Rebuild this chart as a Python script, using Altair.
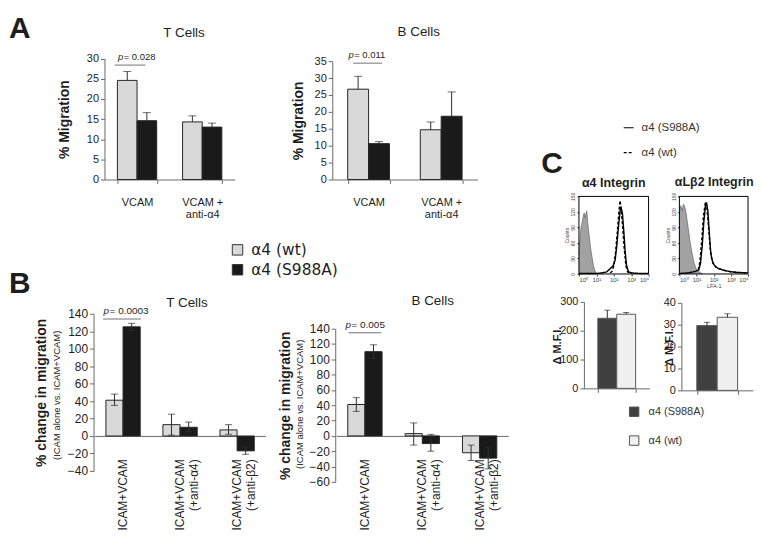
import altair as alt
import pandas as pd

W, H = 750, 526
FONT = "Liberation Sans"
AXC = "#6a6a6a"
TXC = "#1e1e1e"
ERRC = "#2e2e2e"


def X(v):
    return v - 8


def Y(v):
    return v - 8


# ---------------- data ----------------
genotypes = ["α4 (wt)", "α4 (S988A)"]

# Panel A: % migration on VCAM
a_conditions = ["VCAM", "VCAM +\nanti-α4"]
a_t_wt = [24.6, 14.3]
a_t_wt_err = [26.8, 15.8]
a_t_mut = [14.6, 13.0]
a_t_mut_err = [16.6, 14.0]
a_b_wt = [26.7, 14.7]
a_b_wt_err = [30.5, 17.0]
a_b_mut = [10.6, 18.7]
a_b_mut_err = [11.2, 25.9]

# Panel B: % change in migration
b_conditions = ["ICAM+VCAM", "ICAM+VCAM\n(+anti-α4)", "ICAM+VCAM\n(+anti-β2)"]
b_t_wt = [41, 13, 7]
b_t_wt_lo = [35, 1, 2]
b_t_wt_hi = [48, 25, 13]
b_t_mut = [125, 10, -17]
b_t_mut_lo = [121, 5, -21]
b_t_mut_hi = [129, 16, -13]
b_b_wt = [41, 3, -22]
b_b_wt_lo = [32, -12, -32]
b_b_wt_hi = [50, 17, -12]
b_b_mut = [110, -10, -29]
b_b_mut_lo = [101, -20, -43]
b_b_mut_hi = [119, 2, -15]

# p values
p_texts = ["= 0.028", "= 0.011", "= 0.0003", "= 0.005"]
p_levels = [28.4, 34.4, 134, 134.7]

# Panel C: delta MFI
c_genotypes = ["α4 (S988A)", "α4 (wt)"]
c_group = ["MFI"]
c_a4_mfi = [243, 257]
c_a4_err = [271, 263]
c_al_mfi = [29.6, 33.4]
c_al_err = [31.1, 35.0]

# Panel C: flow histograms (x = log10 fluorescence, y = counts)
a4_iso_e = [0.0, 0.05, 0.1, 0.15, 0.2, 0.25, 0.3, 0.35, 0.4, 0.45, 0.5, 0.55, 0.6, 0.67, 0.75, 0.83, 0.9, 0.98, 1.06]
a4_iso_c = [38, 60, 85, 95, 102, 112, 118, 108, 116, 122, 100, 85, 72, 50, 33, 17, 8, 2, 0]
a4_mut_e = [0.0, 0.5, 1.0, 1.3, 1.6, 1.75, 1.88, 1.98, 2.08, 2.17, 2.27, 2.37, 2.42, 2.5, 2.58, 2.65, 2.73, 2.85, 3.04, 3.5, 4.0]
a4_mut_c = [1, 1, 1, 2, 4, 9, 13, 17, 27, 53, 91, 123, 129, 117, 81, 46, 17, 4, 2, 1, 1]
a4_wt_e = [1.8, 1.9, 2.0, 2.1, 2.2, 2.3, 2.36, 2.42, 2.5, 2.6, 2.7, 2.8, 3.0]
a4_wt_c = [2, 5, 15, 40, 80, 122, 142, 128, 95, 50, 15, 4, 1]

al_iso_e = [0.0, 0.08, 0.16, 0.23, 0.31, 0.39, 0.47, 0.55, 0.62, 0.7, 0.78, 0.86, 0.94, 1.01, 1.13, 1.25, 1.37]
al_iso_c = [119, 132, 122, 135, 130, 118, 99, 80, 63, 47, 33, 21, 13, 8, 5, 2, 0]
al_mut_e = [0.0, 0.5, 0.94, 1.13, 1.23, 1.33, 1.42, 1.52, 1.58, 1.66, 1.74, 1.83, 1.95, 2.11, 2.3, 2.6, 2.89, 3.28, 4.0]
al_mut_c = [1, 2, 5, 8, 21, 54, 99, 132, 138, 122, 80, 40, 21, 14, 10, 7, 5, 3, 2]
al_wt_e = [1.1, 1.2, 1.3, 1.4, 1.5, 1.55, 1.6, 1.7, 1.8, 1.9, 2.1, 2.5, 3.0, 4.0]
al_wt_c = [8, 25, 65, 112, 136, 140, 128, 90, 48, 25, 14, 8, 4, 2]


def group_df(conds, genos, first, first_lo, first_hi, second, second_lo, second_hi):
    rows = []
    for i, c in enumerate(conds):
        rows.append(dict(cond=c, geno=genos[0], val=first[i], lo=first_lo[i], hi=first_hi[i]))
        rows.append(dict(cond=c, geno=genos[1], val=second[i], lo=second_lo[i], hi=second_hi[i]))
    return pd.DataFrame(rows)


def bar_panel(df, conds, genos, colors, xr, pair_w, base_y, yd, yr, yticks, ax_x,
              ytitle, ytitle_x, fs, tfs, mode="plain", legend=None, two_sided=False,
              cap=7, bar_stroke="#262626", p=None):
    step = (xr[1] - xr[0]) / len(conds)
    pin = 1 - pair_w / step
    xs = alt.Scale(domain=conds, range=[X(xr[0]), X(xr[1])], paddingInner=pin, paddingOuter=pin / 2)
    ys = alt.Scale(domain=yd, range=[Y(yr[0]), Y(yr[1])], nice=False, zero=False)
    offs = alt.Scale(domain=genos, paddingInner=0, paddingOuter=0)
    common = dict(orient="bottom", offset=Y(base_y) - H, grid=False, domainColor=AXC, title=None,
                  labelFont=FONT, labelFontSize=fs, labelColor=TXC)
    if mode == "rot":
        xax = alt.Axis(ticks=False, tickSize=0, labelAngle=-90, labelPadding=23, labelLineHeight=14,
                       labelExpr="split(datum.label, '\\n')", labelOverlap=False, **common)
    elif mode == "plain":
        xax = alt.Axis(tickColor=AXC, tickSize=4, tickBand="extent", labelAngle=0, labelPadding=13,
                       labelLineHeight=12, labelExpr="split(datum.label, '\\n')", labelOverlap=False, **common)
    else:
        xax = alt.Axis(labels=False, tickColor=AXC, tickSize=4, tickBand="extent", **common)
    yax = alt.Axis(orient="left", offset=-X(ax_x), values=yticks, grid=False, domainColor=AXC,
                   tickColor=AXC, tickSize=4, labelFont=FONT, labelFontSize=fs, labelColor=TXC,
                   labelPadding=2, title=ytitle, titleFont=FONT, titleFontSize=tfs,
                   titleFontWeight="bold", titleColor=TXC, titleX=ytitle_x - ax_x,
                   titleBaseline="middle")
    xe = alt.X("cond:N", scale=xs, axis=xax)
    xo = alt.XOffset("geno:N", scale=offs)

    def ye(f):
        return alt.Y(f, type="quantitative", scale=ys, axis=yax)

    base = alt.Chart(df)
    bars = base.mark_bar(stroke=bar_stroke, strokeWidth=1).encode(
        x=xe, xOffset=xo, y=ye("val"), y2=alt.datum(0),
        color=alt.Color("geno:N", scale=alt.Scale(domain=genos, range=colors), legend=legend))
    lo_f = "lo" if two_sided else "val"
    err = base.mark_rule(color=ERRC, strokeWidth=1).encode(x=xe, xOffset=xo, y=ye(lo_f), y2="hi:Q")
    caps_hi = base.mark_tick(color=ERRC, thickness=1, size=cap).encode(x=xe, xOffset=xo, y=ye("hi"))
    layers = [bars, err, caps_hi]
    if two_sided:
        layers.append(base.mark_tick(color=ERRC, thickness=1, size=cap).encode(x=xe, xOffset=xo, y=ye("lo")))
    if p is not None:
        pdf = pd.DataFrame({"cond": [conds[0]], "yv": [p["y"]], "t": [p["text"]], "pp": ["p"]})
        pc = alt.Chart(pdf)
        layers.append(pc.mark_tick(color="#3a3a3a", thickness=1, size=p["w"], xOffset=p["shift"]).encode(
            x=xe, y=ye("yv")))
        layers.append(pc.mark_text(font=FONT, fontSize=p["fs"], fontStyle="italic", align="right",
                                   baseline="bottom", dx=p["dx"], dy=-3, color=TXC).encode(
            x=xe, y=ye("yv"), text="pp:N"))
        layers.append(pc.mark_text(font=FONT, fontSize=p["fs"], align="left", baseline="bottom",
                                   dx=p["dx"] + 0.5, dy=-3, color=TXC).encode(
            x=xe, y=ye("yv"), text="t:N"))
    return alt.layer(*layers)


def hist_panel(iso_e, iso_c, mut_e, mut_c, wt_e, wt_c, xr, xtitle=None, legend=None):
    xs = alt.Scale(domain=[0, 4], range=[X(xr[0]), X(xr[1])], nice=False, zero=False)
    ys = alt.Scale(domain=[0, 150], range=[Y(274), Y(196)], nice=False, zero=False)
    xkw = dict(orient="bottom", offset=Y(274) - H, values=[0, 1, 2, 3, 4],
               labelExpr="'10' + ['⁰','¹','²','³','⁴'][datum.value]", grid=False, domain=False,
               tickSize=2, tickColor="#333333", labelFont=FONT, labelFontSize=6, labelColor="#444444",
               labelPadding=1)
    if xtitle:
        xax = alt.Axis(title=xtitle, titleFont=FONT, titleFontSize=5.5, titleFontWeight="normal",
                       titleColor="#444444", titlePadding=1, **xkw)
    else:
        xax = alt.Axis(title=None, **xkw)
    yax = alt.Axis(orient="left", offset=-X(xr[0]), values=[0, 30, 60, 90, 120, 150], grid=False,
                   domain=False, tickSize=2, tickColor="#333333", labelAngle=-90, labelFont=FONT,
                   labelFontSize=5, labelColor="#444444", labelPadding=1, title="Counts",
                   titleFont=FONT, titleFontSize=5, titleFontWeight="normal", titleColor="#444444",
                   titlePadding=1)
    gdf = pd.DataFrame({"e": iso_e, "c": iso_c})
    area = alt.Chart(gdf).mark_area(color="#7a7a7a", line={"color": "#555555", "strokeWidth": 0.6}).encode(
        x=alt.X("e:Q", scale=xs, axis=xax), y=alt.Y("c:Q", scale=ys, axis=yax), y2=alt.datum(0))
    ldf = pd.DataFrame({
        "e": list(mut_e) + list(wt_e),
        "c": list(mut_c) + list(wt_c),
        "g": [c_genotypes[0]] * len(mut_e) + [c_genotypes[1]] * len(wt_e),
    })
    lines = alt.Chart(ldf).mark_line(color="black", strokeWidth=1.4).encode(
        x=alt.X("e:Q", scale=xs, axis=xax), y=alt.Y("c:Q", scale=ys, axis=yax),
        strokeDash=alt.StrokeDash("g:N", scale=alt.Scale(domain=c_genotypes, range=[[1, 0], [3, 2]]),
                                  legend=legend))
    frame = alt.Chart(pd.DataFrame({"k": [0]})).mark_rect(fillOpacity=0, stroke="black", strokeWidth=1).encode(
        x=alt.XDatum(0, scale=xs, axis=xax), x2=alt.datum(4),
        y=alt.YDatum(0, scale=ys, axis=yax), y2=alt.datum(150))
    return alt.layer(area, lines, frame)


def label(text, x, y, size, weight="normal", angle=0, align="center", baseline="middle", font=FONT):
    return alt.Chart(pd.DataFrame({"t": [text]})).mark_text(
        font=font, fontSize=size, fontWeight=weight, angle=angle, align=align, baseline=baseline,
        color=TXC).encode(text="t:N", x=alt.value(X(x)), y=alt.value(Y(y)))


light = "#d9d9d9"
black = "#1a1a1a"

mid_legend = alt.Legend(orient="none", legendX=X(231), legendY=Y(242), title=None, symbolType="square",
                        symbolSize=110, symbolStrokeColor="#333333", symbolStrokeWidth=1,
                        labelFont="DejaVu Sans", labelFontSize=15.5, labelColor=TXC, labelOffset=6,
                        rowPadding=3)

a_t = bar_panel(group_df(a_conditions, genotypes, a_t_wt, a_t_wt, a_t_wt_err, a_t_mut, a_t_mut, a_t_mut_err),
                a_conditions, genotypes, [light, black], (105, 236), 39.5, 179, [0, 30], (179, 57.5),
                [0, 5, 10, 15, 20, 25, 30], 105, "% Migration", 65, 11, 14, mode="plain",
                legend=mid_legend, cap=8,
                p=dict(y=p_levels[0], text=p_texts[0], w=31, shift=-7, dx=-14, fs=9.5))
a_b = bar_panel(group_df(a_conditions, genotypes, a_b_wt, a_b_wt, a_b_wt_err, a_b_mut, a_b_mut, a_b_mut_err),
                a_conditions, genotypes, [light, black], (334, 480), 42, 179, [0, 35], (179, 60),
                [0, 5, 10, 15, 20, 25, 30, 35], 334, "% Migration", 300, 11, 14, mode="plain", cap=8,
                p=dict(y=p_levels[1], text=p_texts[1], w=29, shift=-1, dx=-15, fs=9.5))
b_t = bar_panel(group_df(b_conditions, genotypes, b_t_wt, b_t_wt_lo, b_t_wt_hi, b_t_mut, b_t_mut_lo, b_t_mut_hi),
                b_conditions, genotypes, [light, black], (95, 267), 34.5, 436.8, [-40, 140], (472, 314),
                list(range(-40, 141, 20)), 94, "% change in migration", 42, 12, 14, mode="rot",
                two_sided=True, cap=7,
                p=dict(y=p_levels[2], text=p_texts[2], w=38, shift=-1, dx=-14, fs=10))
b_b = bar_panel(group_df(b_conditions, genotypes, b_b_wt, b_b_wt_lo, b_b_wt_hi, b_b_mut, b_b_mut_lo, b_b_mut_hi),
                b_conditions, genotypes, [light, black], (338, 511), 34.5, 436.8, [-60, 140], (483, 329),
                list(range(-60, 141, 20)), 337, "% change in migration", 287, 12, 14, mode="rot",
                two_sided=True, cap=7,
                p=dict(y=p_levels[3], text=p_texts[3], w=33, shift=0, dx=-14, fs=10))

c_legend = alt.Legend(orient="none", legendX=X(632), legendY=Y(407), title=None, symbolType="square",
                      symbolSize=90, symbolStrokeColor="#555555", symbolStrokeWidth=1, labelFont=FONT,
                      labelFontSize=11, labelColor="#333333", labelOffset=9, rowPadding=14)
c_dark = "#404040"
c_light = "#f0f0f0"
c_l = bar_panel(group_df(c_group, c_genotypes, [c_a4_mfi[0]], [c_a4_mfi[0]], [c_a4_err[0]],
                         [c_a4_mfi[1]], [c_a4_mfi[1]], [c_a4_err[1]]),
                c_group, c_genotypes, [c_dark, c_light], (587, 653), 38, 389, [0, 300], (389, 302),
                [0, 100, 200, 300], 587, "Δ M.F.I.", 560, 11, 11, mode="none", legend=c_legend,
                cap=6, bar_stroke="#5a5a5a")
c_r = bar_panel(group_df(c_group, c_genotypes, [c_al_mfi[0]], [c_al_mfi[0]], [c_al_err[0]],
                         [c_al_mfi[1]], [c_al_mfi[1]], [c_al_err[1]]),
                c_group, c_genotypes, [c_dark, c_light], (685, 757), 41, 391, [0, 40], (391, 303),
                [0, 10, 20, 30, 40], 685, "Δ M.F.I.", 673, 11, 11, mode="none", cap=6,
                bar_stroke="#5a5a5a")

line_legend = alt.Legend(orient="none", legendX=X(626), legendY=Y(121), title=None, symbolType="stroke",
                         symbolSize=100, symbolStrokeColor="black", symbolStrokeWidth=1.2,
                         labelFont=FONT, labelFontSize=11.5, labelColor="#333333", labelOffset=7,
                         rowPadding=13)
h_a4 = hist_panel(a4_iso_e, a4_iso_c, a4_mut_e, a4_mut_c, a4_wt_e, a4_wt_c, (582, 652), legend=line_legend)
h_al = hist_panel(al_iso_e, al_iso_c, al_mut_e, al_mut_c, al_wt_e, al_wt_c, (683, 752), xtitle="LFA-1")

texts = [
    label("A", 9, 37, 30, "bold", align="left", baseline="alphabetic"),
    label("B", 9, 293, 30, "bold", align="left", baseline="alphabetic"),
    label("C", 544, 172, 30, "bold", align="left", baseline="alphabetic"),
    label("T Cells", 185, 32, 13.5),
    label("B Cells", 421, 31, 13.5),
    label("T Cells", 188, 303, 13.5),
    label("B Cells", 435, 301, 13.5),
    label("(ICAM alone vs. ICAM+VCAM)", 57, 396, 9.5, angle=270),
    label("(ICAM alone vs. ICAM+VCAM)", 302, 405, 9.5, angle=270),
    label("α4 Integrin", 617, 183, 12.5, "bold"),
    label("αLβ2 Integrin", 718, 182, 12.5, "bold"),
]

chart = alt.layer(a_t, a_b, b_t, b_b, c_l, c_r, h_a4, h_al, *texts).resolve_scale(
    x="independent", y="independent", color="independent", xOffset="independent",
    strokeDash="independent"
).properties(
    width=W, height=H, padding=0, autosize=alt.AutoSizeParams(type="none"), background="white"
).configure_view(strokeWidth=0)

chart.save("out.html", embed_options={"renderer": "svg", "actions": False})
